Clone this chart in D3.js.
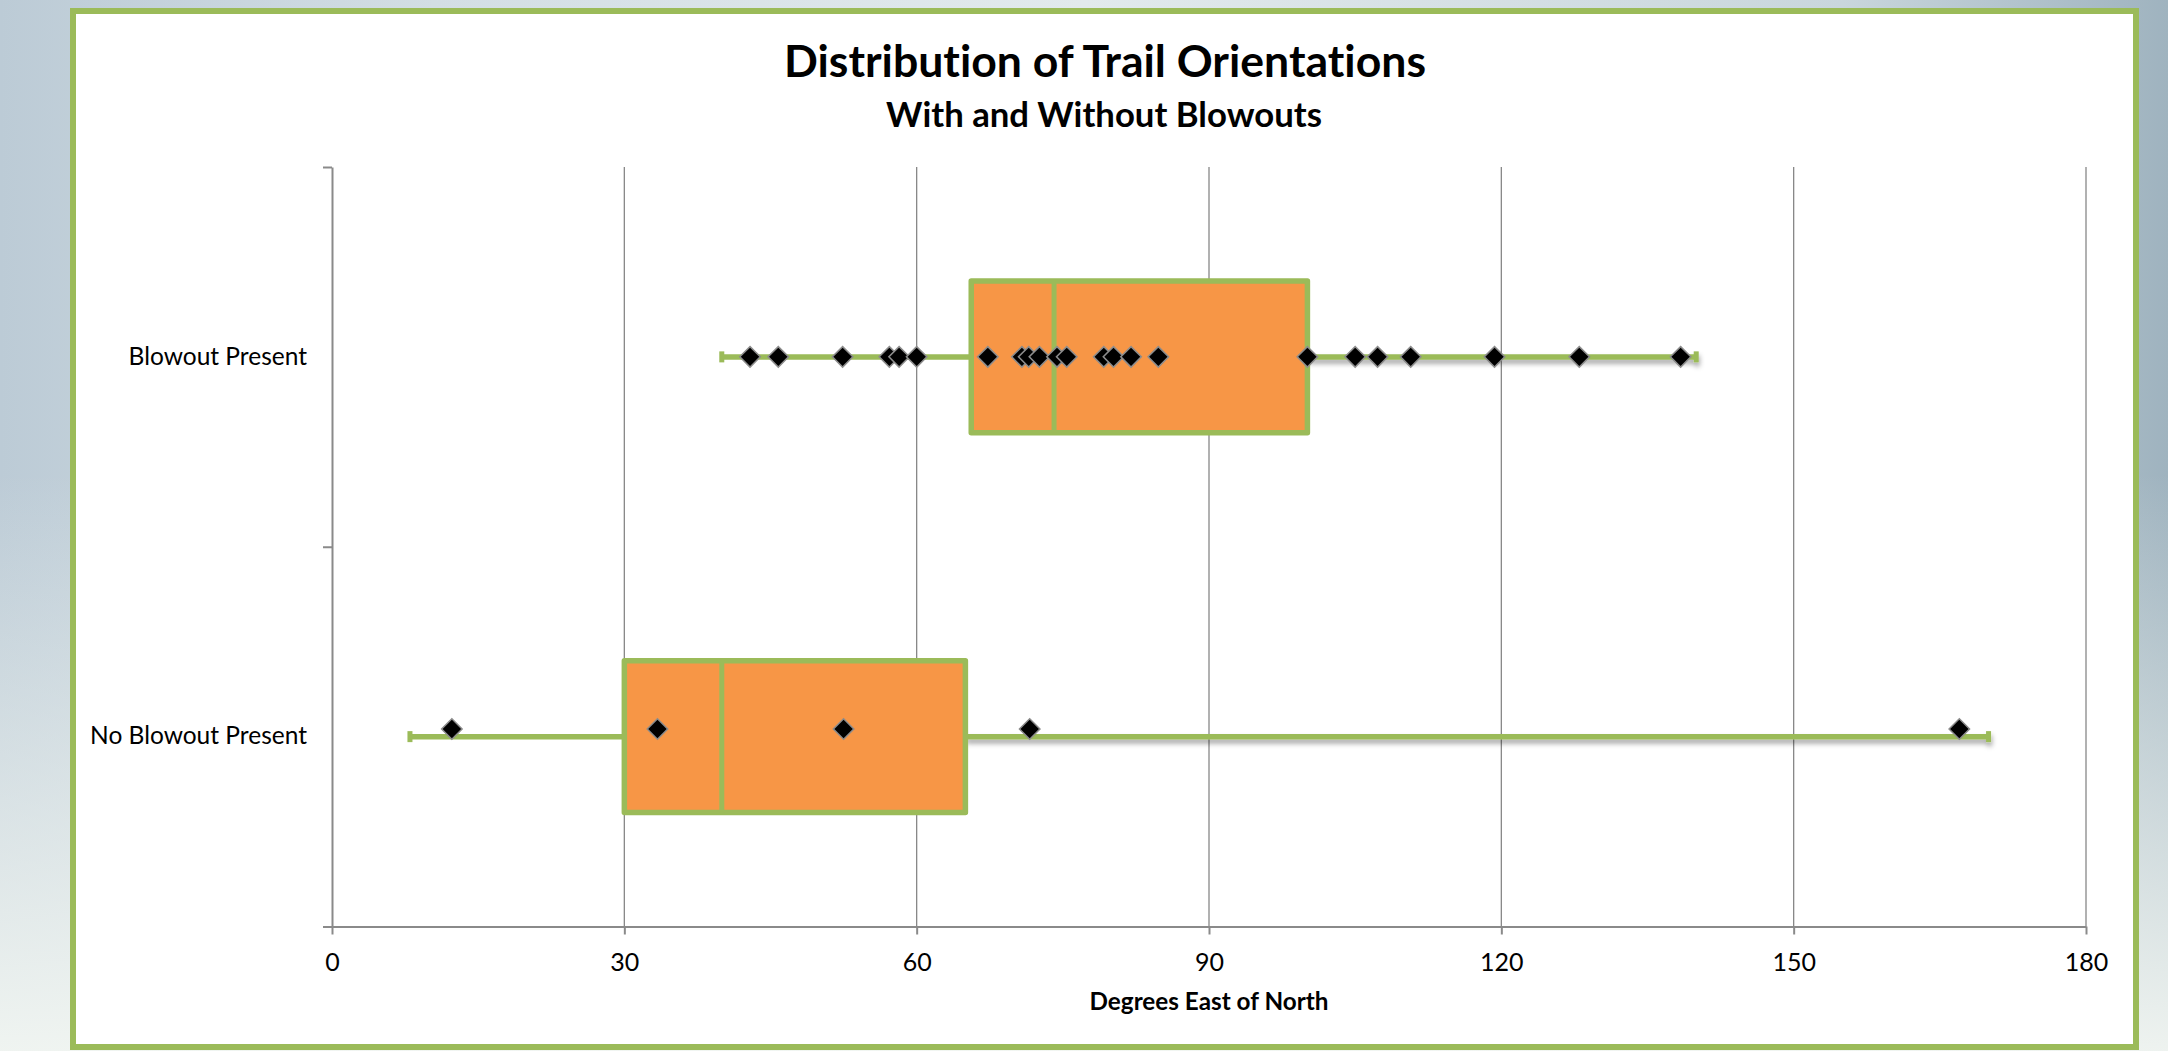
<!DOCTYPE html>
<html lang="en">
  <head>
    <meta charset="UTF-8" />
    <title>Distribution of Trail Orientations</title>
    <style>
      body {
        margin: 0;
        width: 2168px;
        height: 1051px;
        overflow: hidden;
        background:
          linear-gradient(to bottom, rgba(255,255,255,0) 45%, rgba(242,246,242,0.95) 100%),
          linear-gradient(to right, #bccbd6 0%, #d3dee4 20%, #e2eaec 50%, #c9d6dc 85%, #9fb3bf 100%);
      }
      svg {
        display: block;
        font-family: Lato, "Open Sans", sans-serif;
        font-variant-ligatures: none;
      }
      svg text { font-family: Lato, "Open Sans", sans-serif; }
      .grid line { stroke: #878787; stroke-width: 1.3px; }
      .axis path, .axis line { stroke: #8a8a8a; stroke-width: 2px; }
      .axis text { fill: #000; }
    </style>
  </head>
  <body>
    <div id="chart"></div>

    <script src="https://d3js.org/d3.v7.min.js"></script>
    <script>
      // data
      const categories = ["Blowout Present", "No Blowout Present"];
      const whiskerLow = [40, 8];
      const q1 = [65.6, 30];
      const median = [74.1, 40];
      const q3 = [100.1, 65];
      const whiskerHigh = [140, 170];
      const blowoutPoints = [42.9, 45.8, 52.4, 57.2, 58.2, 60.0, 67.3, 70.8, 71.5, 72.6,
        74.4, 75.4, 79.2, 80.2, 82.0, 84.8, 100.1, 105.0, 107.3, 110.7, 119.3, 128.0, 138.4];
      const noBlowoutPoints = [12.3, 33.4, 52.5, 71.6, 167.0];
      const pointSets = [blowoutPoints, noBlowoutPoints];
      const catLevel = [1.5, 0.5];   // category position on the hidden vertical value axis
      const dotLevel = [1.5, 0.52];  // y value of the scatter series
      const xTicks = [0, 30, 60, 90, 120, 150, 180];

      const W = 2168, H = 1051;
      const plot = { left: 332, right: 2086, top: 167, bottom: 926.5 };

      const svg = d3.select("#chart").append("svg")
        .attr("width", W).attr("height", H);

      const defs = svg.append("defs");
      defs.append("filter").attr("id", "shadow")
        .attr("x", "-5%").attr("y", "-200%").attr("width", "110%").attr("height", "500%")
        .append("feDropShadow")
        .attr("dx", 1).attr("dy", 4).attr("stdDeviation", 2.5)
        .attr("flood-color", "#000").attr("flood-opacity", 0.35);

      // white panel with green frame
      svg.append("rect")
        .attr("x", 73).attr("y", 11).attr("width", 2063).attr("height", 1036)
        .attr("fill", "#fff").attr("stroke", "#9bbb59").attr("stroke-width", 6);

      // fit a text element to a measured width
      function fit(sel, width) {
        const size = +sel.attr("font-size");
        const len = sel.node().getComputedTextLength();
        sel.attr("font-size", size * width / len);
        return sel;
      }

      fit(svg.append("text")
        .attr("x", 1105).attr("y", 76.5)
        .attr("text-anchor", "middle").attr("font-weight", "bold").attr("font-size", 38)
        .text("Distribution of Trail Orientations"), 642);

      fit(svg.append("text")
        .attr("x", 1104).attr("y", 126.5)
        .attr("text-anchor", "middle").attr("font-weight", "bold").attr("font-size", 26)
        .text("With and Without Blowouts"), 436);

      const x = d3.scaleLinear().domain([0, 180]).range([plot.left, plot.right]);
      const yVal = d3.scaleLinear().domain([0, 2]).range([plot.bottom, plot.top]);
      const yBand = d3.scaleBand().domain(categories).range([plot.top, plot.bottom]);
      const boxH = yBand.bandwidth() * 0.4;

      // vertical gridlines
      svg.append("g").attr("class", "grid")
        .selectAll("line").data(xTicks.filter(d => d > 0)).join("line")
        .attr("x1", d => x(d)).attr("x2", d => x(d))
        .attr("y1", plot.top).attr("y2", plot.bottom);

      // x axis
      const xAxis = svg.append("g").attr("class", "axis")
        .attr("transform", `translate(0,${plot.bottom})`)
        .call(d3.axisBottom(x).tickValues(xTicks).tickSize(8).tickSizeOuter(0));
      xAxis.selectAll("text").attr("font-size", 25).attr("y", 44).attr("dy", 0);

      // y axis: ticks between categories, labels in the middle
      svg.append("g").attr("class", "axis")
        .attr("transform", `translate(${plot.left},0)`)
        .call(d3.axisLeft(yVal).tickValues([0, 1, 2]).tickFormat("").tickSize(9).tickSizeOuter(0));
      const yLab = svg.append("g").attr("class", "axis")
        .attr("transform", `translate(${plot.left},0)`)
        .call(d3.axisLeft(yBand).tickSize(0).tickPadding(25));
      yLab.select(".domain").remove();
      yLab.selectAll("text").attr("font-size", 24.5);

      fit(svg.append("text")
        .attr("x", (plot.left + plot.right) / 2).attr("y", 1010)
        .attr("text-anchor", "middle").attr("font-weight", "bold").attr("font-size", 22)
        .text("Degrees East of North"), 239);

      const green = "#9bbb59", orange = "#f79646";
      const rows = categories.map((c, i) => ({ i, cy: yVal(catLevel[i]) }));

      // lower whiskers
      const lower = svg.append("g");
      lower.selectAll("line").data(rows).join("line")
        .attr("x1", d => x(whiskerLow[d.i])).attr("x2", d => x(q1[d.i]))
        .attr("y1", d => d.cy).attr("y2", d => d.cy)
        .attr("stroke", green).attr("stroke-width", 5.5);
      lower.selectAll("rect").data(rows).join("rect")
        .attr("x", d => x(whiskerLow[d.i]) - 2.5).attr("y", d => d.cy - 5.5)
        .attr("width", 5).attr("height", 11).attr("fill", green);

      // upper whiskers (with shadow)
      const upper = svg.append("g").attr("filter", "url(#shadow)");
      upper.selectAll("line").data(rows).join("line")
        .attr("x1", d => x(q3[d.i])).attr("x2", d => x(whiskerHigh[d.i]))
        .attr("y1", d => d.cy).attr("y2", d => d.cy)
        .attr("stroke", green).attr("stroke-width", 5.5);
      upper.selectAll("rect").data(rows).join("rect")
        .attr("x", d => x(whiskerHigh[d.i]) - 2.5).attr("y", d => d.cy - 5.5)
        .attr("width", 5).attr("height", 11).attr("fill", green);

      // boxes
      svg.append("g").selectAll("rect").data(rows).join("rect")
        .attr("x", d => x(q1[d.i])).attr("width", d => x(q3[d.i]) - x(q1[d.i]))
        .attr("y", d => d.cy - boxH / 2).attr("height", boxH)
        .attr("fill", orange).attr("stroke", green).attr("stroke-width", 5.5)
        .attr("stroke-linejoin", "round");

      svg.append("g").selectAll("line").data(rows).join("line")
        .attr("x1", d => x(median[d.i])).attr("x2", d => x(median[d.i]))
        .attr("y1", d => d.cy - boxH / 2).attr("y2", d => d.cy + boxH / 2)
        .attr("stroke", green).attr("stroke-width", 5);

      // scatter points as diamonds
      const diamond = d3.symbol(d3.symbolSquare, 210);
      const pts = pointSets.flatMap((set, i) => set.map(v => ({ v, i })));
      svg.append("g").selectAll("path").data(pts).join("path")
        .attr("d", diamond)
        .attr("transform", d => `translate(${x(d.v)},${yVal(dotLevel[d.i])}) rotate(45)`)
        .attr("fill", "#000").attr("stroke", "#8c8c8c").attr("stroke-width", 1.5);
    </script>
  </body>
</html>
